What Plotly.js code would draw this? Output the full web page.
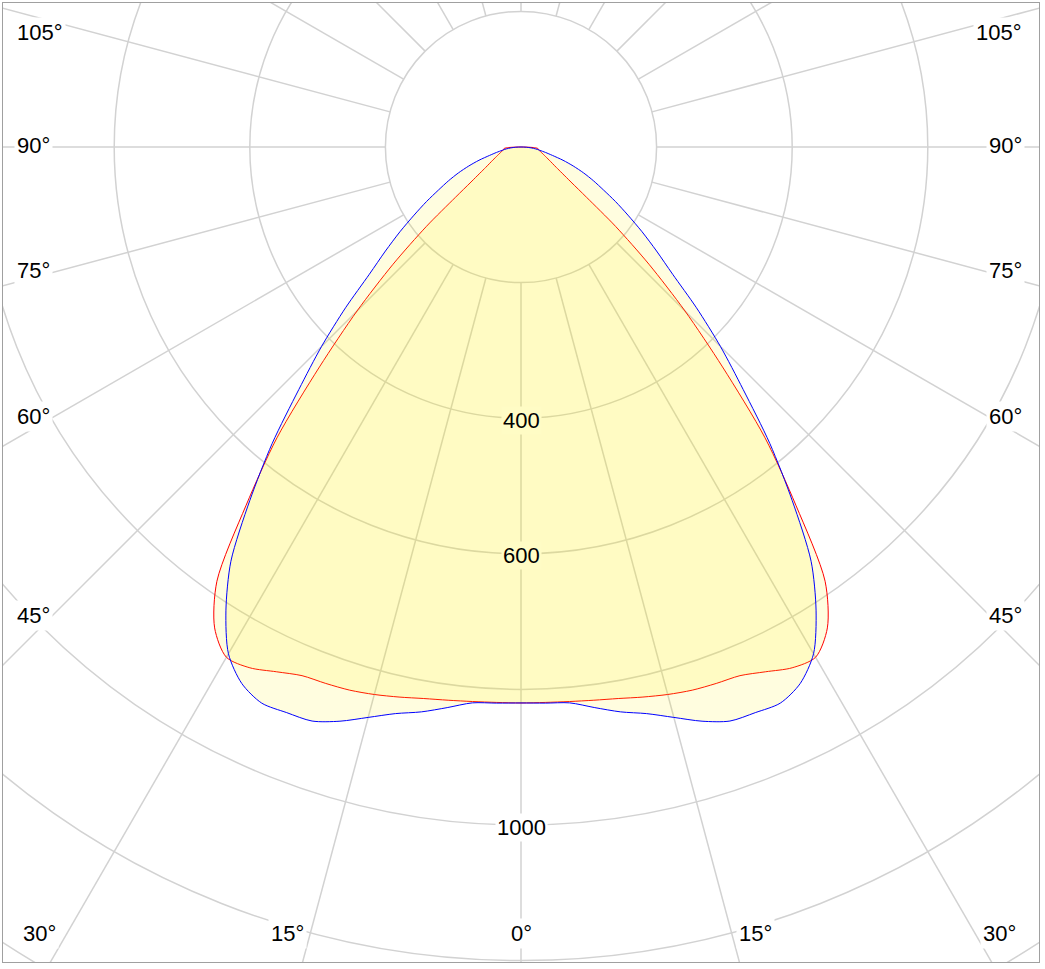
<!DOCTYPE html>
<html>
<head>
<meta charset="utf-8">
<script src="https://cdn.plot.ly/plotly-3.0.1.min.js"></script>
<style>html,body{margin:0;padding:0;background:#fff}#chart{width:1045px;height:969px}</style>
</head>
<body>
<div id="chart"></div>
<script>
// ---- data (cd/klm) ----
const gamma = [0,2.5,5,7.5,10,12.5,15,17.5,20,22.5,25,27.5,30,32.5,35,37.5,40,42.5,45,47.5,50,52.5,55,57.5,60,62.5,65,67.5,70,72.5,75,77.5,80,82.5,85,87.5,90];
const redCd  = [820,820,821,823,826,831,836,840,842,844,854,866,869,841,782,666,560,440,342,256,182,122,90,72,60,52,46,41,37,34,31,29,27,26,25,18,0];
const blueCd = [820,821,823,834,846,856,871,888,901,903,905,892,863,810,746,657,571,485,416,351,292,252,218,187,161,137,118,100,82,65,48,37,28,22,15,8,0];
const ringValues = [200,400,600,800,1000,1200,1400];
const ringLabelValues = [400,600,1000];
const spokeAngles = [0,15,30,45,60,75,90,105,120,135,150,165,180,195,210,225,240,255,270,285,300,315,330,345];
const sideLabels = ['105°','90°','75°','60°','45°'];
const bottomLabels = ['30°','15°','0°','15°','30°'];

// ---- geometry of the frame (pixels) ----
const W = 1045, H = 969;
const M = {l:3, r:6, t:3, b:7};
const PW = W - M.l - M.r, PH = H - M.t - M.b;
const CX = 521, CY = 147, S = 0.678;  // centre pixel and px per cd
const xr = [(M.l - CX)/S, (W - M.r - CX)/S];
const yr = [-(H - M.b - CY)/S, (CY - M.t)/S];
const px = p => (p - M.l)/PW;
const py = p => 1 - (p - M.t)/PH;

function curve(vals){
  const x = [], y = [];
  for (let i = gamma.length - 1; i >= 0; i--) {
    const t = -gamma[i]*Math.PI/180;
    x.push(vals[i]*Math.sin(t)); y.push(-vals[i]*Math.cos(t));
  }
  for (let i = 1; i < gamma.length; i++) {
    const t = gamma[i]*Math.PI/180;
    x.push(vals[i]*Math.sin(t)); y.push(-vals[i]*Math.cos(t));
  }
  return {x, y};
}

const fillCol = 'rgba(255,240,0,0.125)';
const red = curve(redCd), blue = curve(blueCd);
const traces = [
  {type:'scatter', mode:'lines', x:red.x, y:red.y, fill:'toself', fillcolor:fillCol,
   line:{color:'#ff0000', width:1, shape:'spline', smoothing:0.8}, hoverinfo:'skip', name:'C0-C180'},
  {type:'scatter', mode:'lines', x:blue.x, y:blue.y, fill:'toself', fillcolor:fillCol,
   line:{color:'#0000ff', width:1, shape:'spline', smoothing:0.8}, hoverinfo:'skip', name:'C90-C270'}
];

const gridCol = '#d2d2d2';
const shapes = [];
ringValues.forEach(v => shapes.push({type:'circle', xref:'x', yref:'y', x0:-v, x1:v, y0:-v, y1:v,
  line:{color:gridCol, width:1.5}, layer:'below'}));
const rIn = ringValues[0], rOut = 2500;
spokeAngles.forEach(a => {
  const t = a*Math.PI/180;
  shapes.push({type:'line', xref:'x', yref:'y',
    x0:rIn*Math.sin(t), y0:-rIn*Math.cos(t), x1:rOut*Math.sin(t), y1:-rOut*Math.cos(t),
    line:{color:gridCol, width:1.5}, layer:'below'});
});

const font = {family:'Liberation Sans, Arial, sans-serif', size:22, color:'#000'};
const annotations = [];
const sideY = [33, 145, 270, 416.5, 615];
sideLabels.forEach((txt, i) => {
  annotations.push({xref:'paper', yref:'paper', x:px(14), y:py(sideY[i]), text:txt, showarrow:false,
    xanchor:'left', yanchor:'middle', font, bgcolor:'#ffffff', borderpad:2});
  annotations.push({xref:'paper', yref:'paper', x:px(1024.5), y:py(sideY[i]), text:txt, showarrow:false,
    xanchor:'right', yanchor:'middle', font, bgcolor:'#ffffff', borderpad:2});
});
const bottomX = [39.7, 287, 521, 755, 999];
bottomLabels.forEach((txt, i) => {
  annotations.push({xref:'paper', yref:'paper', x:px(bottomX[i]), y:py(933), text:txt, showarrow:false,
    xanchor:'center', yanchor:'middle', font, bgcolor:'#ffffff', borderpad:2});
});
const inner = Math.min(redCd[0], blueCd[0]);
ringLabelValues.forEach(v => {
  annotations.push({xref:'x', yref:'y', x:0, y:-v, yshift:-2, text:String(v), showarrow:false,
    xanchor:'center', yanchor:'middle', font,
    bgcolor: v < inner ? 'rgb(255,252,197)' : '#ffffff', borderpad:1});
});

const axisBase = {showgrid:false, zeroline:false, showticklabels:false, ticks:'',
  showline:true, mirror:true, linecolor:'#a0a0a0', linewidth:1, fixedrange:true};
const layout = {
  width:W, height:H, margin:M, showlegend:false,
  paper_bgcolor:'#ffffff', plot_bgcolor:'#ffffff',
  xaxis:Object.assign({range:xr}, axisBase),
  yaxis:Object.assign({range:yr}, axisBase),
  shapes, annotations
};
Plotly.newPlot('chart', traces, layout, {staticPlot:true, displayModeBar:false});
</script>
</body>
</html>
